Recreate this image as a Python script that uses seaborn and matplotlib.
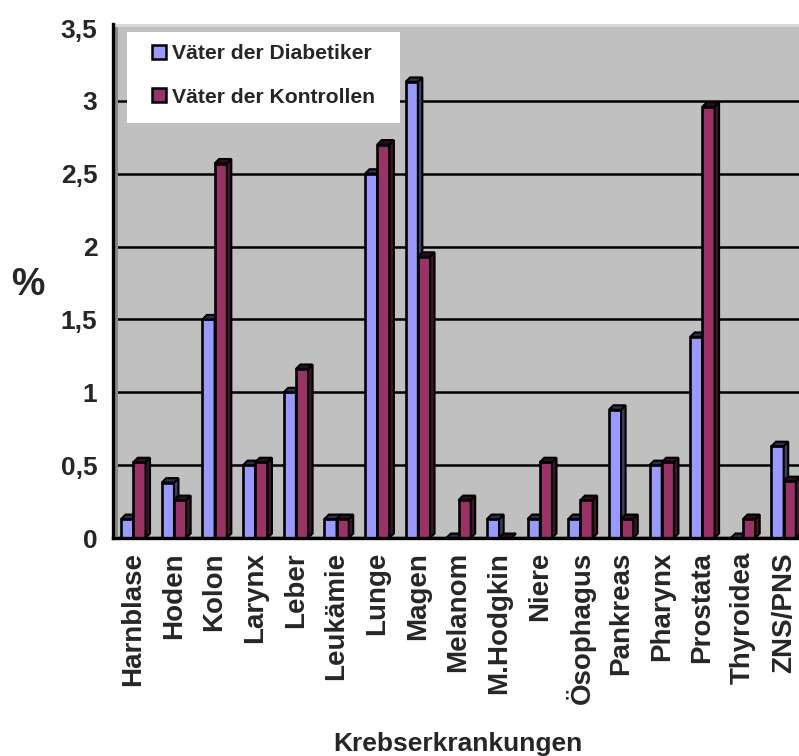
import numpy as np
import pandas as pd
import matplotlib
matplotlib.use("Agg")
import matplotlib.pyplot as plt
from matplotlib.patches import Polygon, Rectangle, Patch
from matplotlib.ticker import FixedLocator
import seaborn as sns

# ---- data -------------------------------------------------------------
categories = ["Harnblase", "Hoden", "Kolon", "Larynx", "Leber", "Leukämie",
              "Lunge", "Magen", "Melanom", "M.Hodgkin", "Niere", "Ösophagus",
              "Pankreas", "Pharynx", "Prostata", "Thyroidea", "ZNS/PNS"]
diabetiker = [0.13, 0.38, 1.50, 0.50, 1.00, 0.13, 2.50, 3.13, 0.00, 0.13,
              0.13, 0.13, 0.88, 0.50, 1.38, 0.00, 0.63]
kontrollen = [0.52, 0.26, 2.57, 0.52, 1.16, 0.13, 2.70, 1.93, 0.26, 0.00,
              0.52, 0.26, 0.13, 0.52, 2.96, 0.13, 0.39]
series_names = ["Väter der Diabetiker", "Väter der Kontrollen"]
ytick_values = [0, 0.5, 1, 1.5, 2, 2.5, 3, 3.5]
ytick_labels = ["0", "0,5", "1", "1,5", "2", "2,5", "3", "3,5"]

df = pd.DataFrame({
    "Krebs": categories * 2,
    "Prozent": diabetiker + kontrollen,
    "Gruppe": [series_names[0]] * len(categories) + [series_names[1]] * len(categories),
})

# ---- style ------------------------------------------------------------
sns.set_style("white")
plt.rcParams["font.family"] = ["Liberation Sans", "DejaVu Sans"]
plt.rcParams["font.weight"] = "bold"

blue = "#9999ff"
maroon = "#993366"
wall = "#c0c0c0"

W, H, DPI = 799, 756, 100
fig = plt.figure(figsize=(W / DPI, H / DPI), dpi=DPI)

# plot area in pixels (left, bottom, right, top measured from the top-left)
left_px, right_px, top_px, bottom_px = 113, 804, 24, 538
ax = fig.add_axes([left_px / W, 1 - bottom_px / H,
                   (right_px - left_px) / W, (bottom_px - top_px) / H])

n = len(categories)
px_per_y = 145.7
ymax = 3.5 + (28 - top_px) / px_per_y
px_per_x = (right_px - left_px) / n
ax.set_facecolor(wall)

sns.barplot(data=df, x="Krebs", y="Prozent", hue="Gruppe",
            palette=[blue, maroon], saturation=1, width=0.6,
            edgecolor="black", linewidth=1.9, legend=False, ax=ax)

ax.set_xlim(-0.5, n - 0.5)
ax.set_ylim(0, ymax)

# 3D depth: side and top faces derived from every drawn bar
dx = 4.5 / px_per_x
dy = 4.5 / px_per_y
bars = list(ax.patches)
for i, bar in enumerate(bars):
    z = 3 if i < n else 4
    bar.set_zorder(z)
    x0 = bar.get_x()
    w = bar.get_width()
    h = bar.get_height()
    fc = np.array(matplotlib.colors.to_rgb(bar.get_facecolor()))
    side = Polygon([(x0 + w, 0), (x0 + w + dx, dy), (x0 + w + dx, h + dy), (x0 + w, h)],
                   closed=True, facecolor=fc * 0.4, edgecolor="black",
                   linewidth=1.5, zorder=z)
    top = Polygon([(x0, h), (x0 + dx, h + dy), (x0 + w + dx, h + dy), (x0 + w, h)],
                  closed=True, facecolor=fc * 0.3, edgecolor="black",
                  linewidth=1.5, zorder=z)
    ax.add_patch(side)
    ax.add_patch(top)

# horizontal gridlines on the back wall
for v in ytick_values[1:-1]:
    ax.axhline(v, color="black", linewidth=1.8, zorder=1)

# left side wall, floor and top rim of the chart box
ax.add_patch(Rectangle((0, 0), 5 / (right_px - left_px), 1, transform=ax.transAxes,
                       facecolor="#8a8a8a", edgecolor="none", zorder=2))
ax.add_patch(Rectangle((0, 0), 1, 2.5 / (bottom_px - top_px), transform=ax.transAxes,
                       facecolor="#9a9a9a", edgecolor="none", zorder=2))
ax.add_patch(Rectangle((0, 1 - 3 / (bottom_px - top_px)), 1, 3 / (bottom_px - top_px),
                       transform=ax.transAxes, facecolor="#d9d9d9",
                       edgecolor="none", zorder=2))

# spines and ticks
for s in ["top", "right"]:
    ax.spines[s].set_visible(False)
for s in ["left", "bottom"]:
    ax.spines[s].set_color("black")
    ax.spines[s].set_linewidth(2.4)
    ax.spines[s].set_zorder(6)

ax.set_yticks(ytick_values)
ax.set_yticklabels(ytick_labels, fontsize=19, fontweight="bold")
ax.tick_params(axis="y", direction="out", length=7.2, width=1.6, color="black", pad=4)

ax.set_xticks(range(n))
ax.set_xticklabels(categories, rotation=90, fontsize=20, fontweight="bold")
ax.tick_params(axis="x", which="major", length=0, pad=10)
ax.xaxis.set_minor_locator(FixedLocator(np.arange(-0.5, n, 1.0)))
ax.tick_params(axis="x", which="minor", direction="out", length=7.2, width=1.6, color="black")

ax.set_xlabel("Krebserkrankungen", fontsize=19, fontweight="bold")
ax.xaxis.label.set_va("center")
ax.xaxis.set_label_coords(((458 - left_px) / (right_px - left_px)),
                          (bottom_px - 744) / (bottom_px - top_px))
ax.set_ylabel("%", fontsize=27, fontweight="bold", rotation=0)
ax.yaxis.label.set_va("center")
ax.yaxis.label.set_ha("center")
ax.yaxis.set_label_coords((28 - left_px) / (right_px - left_px),
                          (bottom_px - 285) / (bottom_px - top_px))

# legend on a white panel
ax_w = right_px - left_px
ax_h = bottom_px - top_px
ax.add_patch(Rectangle(((127 - left_px) / ax_w, (bottom_px - 123) / ax_h),
                       (400 - 127) / ax_w, (123 - 32) / ax_h,
                       transform=ax.transAxes, facecolor="white",
                       edgecolor="none", zorder=7))
handles = [Patch(facecolor=blue, edgecolor="black", linewidth=1.8),
           Patch(facecolor=maroon, edgecolor="black", linewidth=1.8)]
leg = ax.legend(handles, series_names, loc="center left",
                bbox_to_anchor=((152 - left_px) / ax_w, (bottom_px - 75.5) / ax_h),
                frameon=False, borderpad=0, borderaxespad=0,
                prop={"size": 15.2, "weight": "bold"},
                handlelength=0.67, handleheight=0.67, handletextpad=0.3,
                labelspacing=1.15)
leg.set_zorder(8)

fig.savefig("out.png", dpi=DPI)
